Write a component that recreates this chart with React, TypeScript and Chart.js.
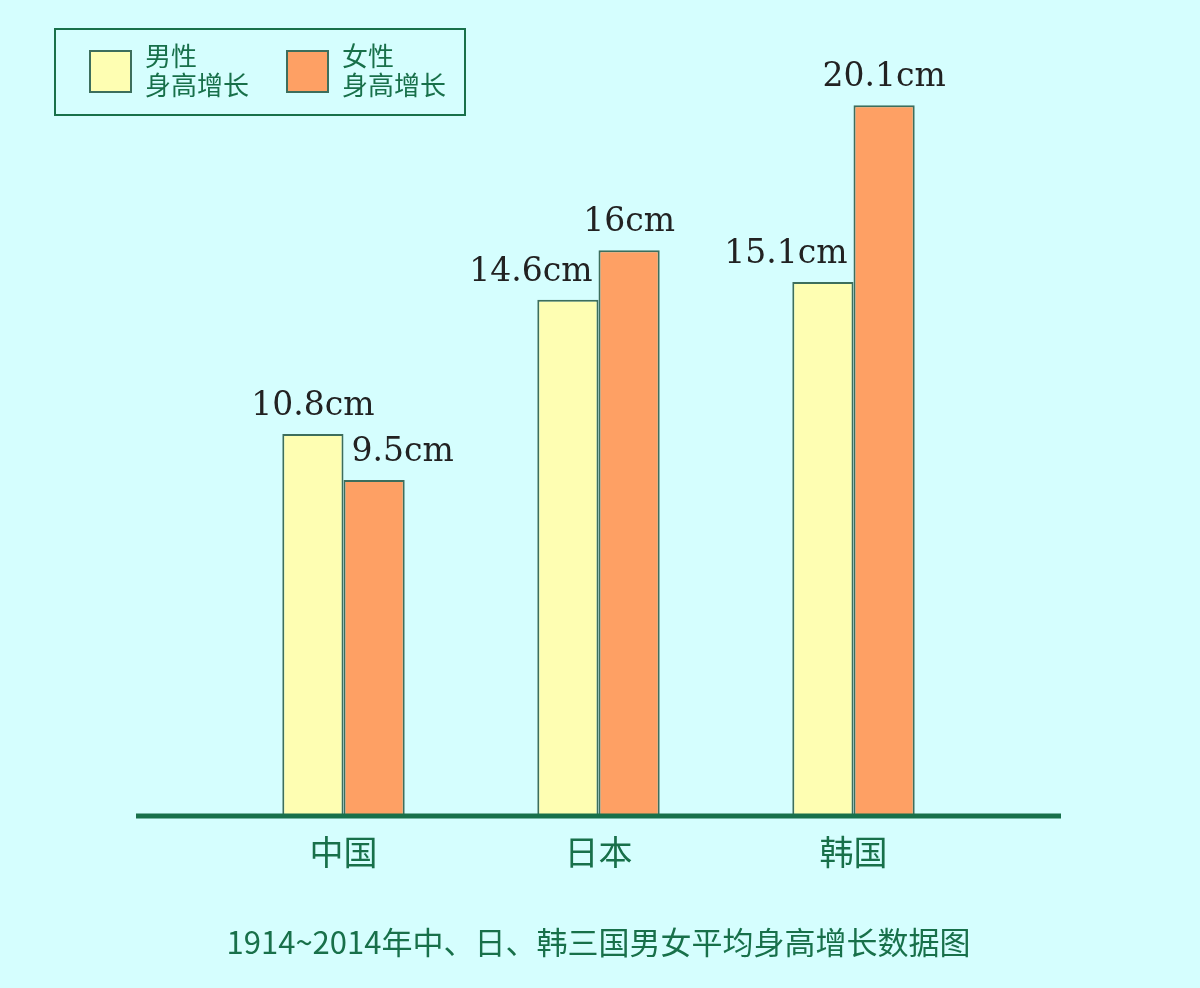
import { useEffect, useRef } from "react";
import { Chart, registerables } from "chart.js";

Chart.register(...registerables);

// data
const countries = ["中国", "日本", "韩国"];
const maleGrowth = [10.8, 14.6, 15.1];
const femaleGrowth = [9.5, 16, 20.1];
const seriesNames = ["男性\n身高增长", "女性\n身高增长"];
const chartTitle = "1914~2014年中、日、韩三国男女平均身高增长数据图";

const BG = "#d5fefe";
const GREEN = "#18704a";
const BAR_BORDER = "#3d6e5c";
const seriesColors = ["#fefeb2", "#fea064"];

// thick baseline that sticks out past the bars on both sides
const baselinePlugin = {
  id: "baseline",
  afterDatasetsDraw(chart: any) {
    const { ctx, chartArea } = chart;
    ctx.save();
    ctx.strokeStyle = GREEN;
    ctx.lineWidth = 5;
    ctx.beginPath();
    ctx.moveTo(chartArea.left - 80, chartArea.bottom);
    ctx.lineTo(chartArea.right + 80, chartArea.bottom);
    ctx.stroke();
    ctx.restore();
  },
};

// "xx cm" above every bar, nudged sideways if the neighbour bar is in the way
const valueLabelPlugin = {
  id: "valueLabels",
  afterDatasetsDraw(chart: any) {
    const { ctx } = chart;
    ctx.save();
    ctx.font = "33px 'DejaVu Serif'";
    ctx.fillStyle = "#222222";
    ctx.textAlign = "left";
    ctx.textBaseline = "alphabetic";
    const n = chart.data.datasets.length;
    chart.data.datasets.forEach((ds: any, i: number) => {
      const meta = chart.getDatasetMeta(i);
      meta.data.forEach((bar: any, j: number) => {
        const text = ds.data[j] + "cm";
        const w = ctx.measureText(text).width;
        const baseY = bar.y - 19;
        let left = bar.x - w / 2;
        const k = i === 0 ? 1 : i - 1;
        if (k < n && k !== i) {
          const other = chart.getDatasetMeta(k).data[j];
          if (other && other.y < baseY) {
            if (i < k) left = Math.min(left, bar.x + bar.width / 2 - 6 - w);
            else left = Math.max(left, bar.x - bar.width / 2 + 8);
          }
        }
        ctx.fillText(text, left, baseY);
      });
    });
    ctx.restore();
  },
};

const App = () => {
  const canvasRef = useRef<HTMLCanvasElement | null>(null);

  useEffect(() => {
    if (!canvasRef.current) return;
    const chart = new Chart(canvasRef.current, {
      type: "bar",
      data: {
        labels: countries,
        datasets: [
          {
            label: seriesNames[0],
            data: maleGrowth,
            backgroundColor: seriesColors[0],
            borderColor: BAR_BORDER,
            borderWidth: 2,
            borderSkipped: false,
          },
          {
            label: seriesNames[1],
            data: femaleGrowth,
            backgroundColor: seriesColors[1],
            borderColor: BAR_BORDER,
            borderWidth: 2,
            borderSkipped: false,
          },
        ],
      },
      options: {
        responsive: true,
        maintainAspectRatio: false,
        animation: false,
        datasets: { bar: { categoryPercentage: 0.48, barPercentage: 1 } },
        layout: { padding: { left: 216, right: 219, top: 38, bottom: 0 } },
        plugins: {
          legend: { display: false },
          tooltip: { enabled: false },
          title: {
            display: true,
            position: "bottom",
            text: chartTitle,
            color: GREEN,
            font: { family: "'Noto Sans CJK SC'", size: 31, weight: "normal" },
            padding: { top: 43, bottom: 27 },
          },
        },
        scales: {
          x: {
            grid: { display: false },
            border: { display: false },
            ticks: {
              color: GREEN,
              padding: 8,
              font: { family: "'Noto Sans CJK SC'", size: 34 },
            },
          },
          y: { display: false, min: 0, max: 22 },
        },
      },
      plugins: [baselinePlugin, valueLabelPlugin],
    });
    return () => chart.destroy();
  }, []);

  return (
    <div style={{ position: "fixed", left: 0, top: 0, width: 1200, height: 988, background: BG }}>
      <canvas ref={canvasRef}></canvas>
      {/* legend box, built from the series names/colours */}
      <div
        style={{
          position: "absolute",
          left: 54,
          top: 28,
          width: 408,
          height: 84,
          border: `2px solid ${GREEN}`,
          fontFamily: "'Noto Sans CJK SC'",
          color: GREEN,
        }}
      >
        {seriesNames.map((name, i) => (
          <div
            key={name}
            style={{ position: "absolute", left: 33 + i * 197, top: 20, display: "flex" }}
          >
            <div
              style={{
                width: 39,
                height: 39,
                background: seriesColors[i],
                border: `2px solid ${BAR_BORDER}`,
              }}
            ></div>
            <div
              style={{
                marginLeft: 13,
                marginTop: -10,
                fontSize: 26,
                lineHeight: "29px",
                whiteSpace: "pre-line",
              }}
            >
              {name}
            </div>
          </div>
        ))}
      </div>
    </div>
  );
};

export default App;
